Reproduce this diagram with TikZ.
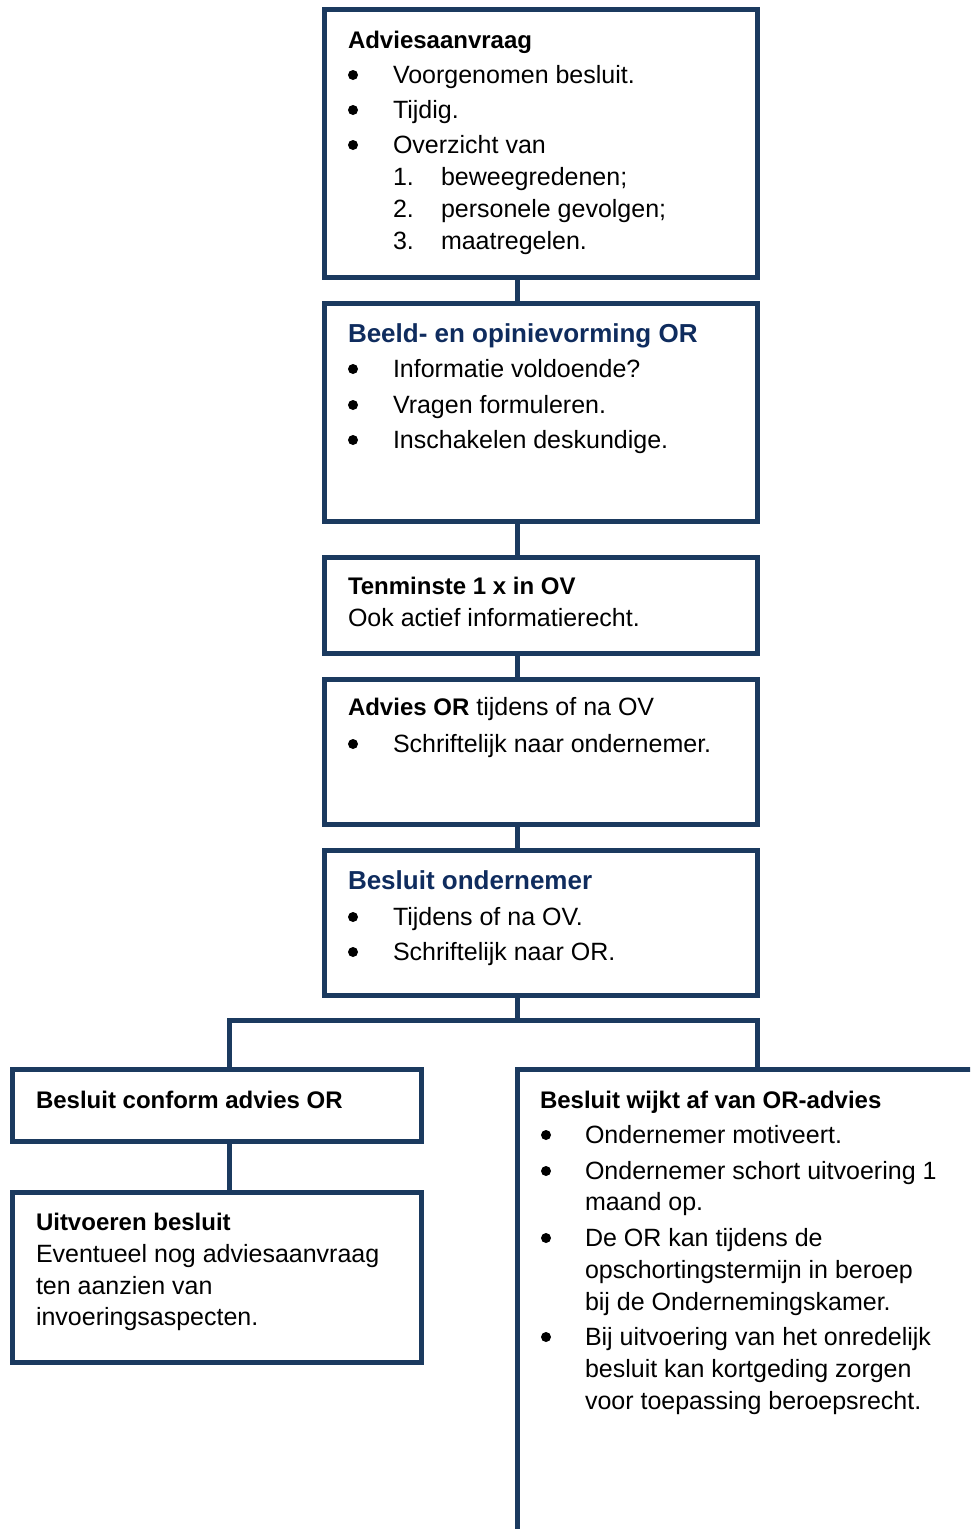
\documentclass[tikz,border=0pt]{standalone}
\usepackage{fontspec}
\setmainfont{Liberation Sans}
\definecolor{navy}{HTML}{1B3A5F}
\definecolor{ttl}{HTML}{0F2C5E}
\begin{document}
\begin{tikzpicture}[x=1pt,y=-1pt,
 box/.style={draw=navy,line width=5pt,rectangle,inner sep=0pt,outer sep=0pt},
 conn/.style={draw=navy,line width=5pt},
 txt/.style={anchor=base west,inner sep=0pt,outer sep=0pt,font=\fontsize{25}{30}\selectfont},
 hd/.style={txt,font=\fontsize{24}{30}\selectfont\bfseries},
 bhd/.style={txt,font=\fontsize{26}{30}\selectfont\bfseries,text=ttl},
 bul/.style={fill=black}]
\useasboundingbox (0,0) rectangle (970,1529);
\clip (0,0) rectangle (970,1529);
\fill[white] (0,0) rectangle (970,1529);
% boxes
\node[box,minimum width=433,minimum height=268] (b1) at (541,143.5) {};
\node[box,minimum width=433,minimum height=218] (b2) at (541,412) {};
\node[box,minimum width=433,minimum height=96] (b3) at (541,605) {};
\node[box,minimum width=433,minimum height=145] (b4) at (541,751.5) {};
\node[box,minimum width=433,minimum height=145] (b5) at (541,922.5) {};
\node[box,minimum width=409,minimum height=72] (l1) at (217,1105) {};
\node[box,minimum width=409,minimum height=170] (l2) at (217,1277) {};
\node[box,minimum width=463,minimum height=480] (r1) at (748.5,1309.5) {};
% connectors
\coordinate (cx) at (517,0);
\coordinate (jl) at (229,1020);
\coordinate (jr) at (757,1020);
\draw[conn] (b1.south -| cx) -- (b2.north -| cx);
\draw[conn] (b2.south -| cx) -- (b3.north -| cx);
\draw[conn] (b3.south -| cx) -- (b4.north -| cx);
\draw[conn] (b4.south -| cx) -- (b5.north -| cx);
\draw[conn] (b5.south -| cx) -- (jl -| cx);
\draw[conn] (jl |- l1.north) -- (jl) -- (jr) -- (jr |- r1.north);
\draw[conn] (jl |- l1.south) -- (jl |- l2.north);
% box 1
\node[hd] (t1) at (348,48) {Adviesaanvraag};
\fill[bul] (353,75) circle[radius=5pt];
\node[txt] (t1a) at (393,83) {Voorgenomen besluit.};
\fill[bul] (353,110) circle[radius=5pt];
\node[txt] (t1b) at (393,118) {Tijdig.};
\fill[bul] (353,145) circle[radius=5pt];
\node[txt] (t1c) at (393,153) {Overzicht van};
\node[txt] (n1) at (393,185) {1.};
\node[txt] (t1d) at (441,185) {beweegredenen;};
\node[txt] (n2) at (393,217) {2.};
\node[txt] (t1e) at (441,217) {personele gevolgen;};
\node[txt] (n3) at (393,249) {3.};
\node[txt] (t1f) at (441,249) {maatregelen.};
% box 2
\node[bhd] (t2) at (348,342) {Beeld- en opinievorming OR};
\fill[bul] (353,369) circle[radius=5pt];
\node[txt] (t2a) at (393,377) {Informatie voldoende?};
\fill[bul] (353,405) circle[radius=5pt];
\node[txt] (t2b) at (393,413) {Vragen formuleren.};
\fill[bul] (353,440) circle[radius=5pt];
\node[txt] (t2c) at (393,448) {Inschakelen deskundige.};
% box 3
\node[hd] (t3) at (348,594) {Tenminste 1 x in OV};
\node[txt] (t3a) at (348,626) {Ook actief informatierecht.};
% box 4
\node[txt] (t4) at (348,715) {\textbf{\fontsize{24}{30}\selectfont Advies OR} tijdens of na OV};
\fill[bul] (353,744) circle[radius=5pt];
\node[txt] (t4a) at (393,752) {Schriftelijk naar ondernemer.};
% box 5
\node[bhd] (t5) at (348,889) {Besluit ondernemer};
\fill[bul] (353,917) circle[radius=5pt];
\node[txt] (t5a) at (393,925) {Tijdens of na OV.};
\fill[bul] (353,952) circle[radius=5pt];
\node[txt] (t5b) at (393,960) {Schriftelijk naar OR.};
% left boxes
\node[hd] (tl1) at (36,1108) {Besluit conform advies OR};
\node[hd] (tl2) at (36,1230) {Uitvoeren besluit};
\node[txt] (tl2a) at (36,1262) {Eventueel nog adviesaanvraag};
\node[txt] (tl2b) at (36,1294) {ten aanzien van};
\node[txt] (tl2c) at (36,1325) {invoeringsaspecten.};
% right box
\node[hd] (tr) at (540,1108) {Besluit wijkt af van OR-advies};
\fill[bul] (546,1135) circle[radius=5pt];
\node[txt] (tra) at (585,1143) {Ondernemer motiveert.};
\fill[bul] (546,1171) circle[radius=5pt];
\node[txt] (trb1) at (585,1179) {Ondernemer schort uitvoering 1};
\node[txt] (trb2) at (585,1210) {maand op.};
\fill[bul] (546,1238) circle[radius=5pt];
\node[txt] (trc1) at (585,1246) {De OR kan tijdens de};
\node[txt] (trc2) at (585,1278) {opschortingstermijn in beroep};
\node[txt] (trc3) at (585,1310) {bij de Ondernemingskamer.};
\fill[bul] (546,1337) circle[radius=5pt];
\node[txt] (trd1) at (585,1345) {Bij uitvoering van het onredelijk};
\node[txt] (trd2) at (585,1377) {besluit kan kortgeding zorgen};
\node[txt] (trd3) at (585,1409) {voor toepassing beroepsrecht.};
\end{tikzpicture}
\end{document}
